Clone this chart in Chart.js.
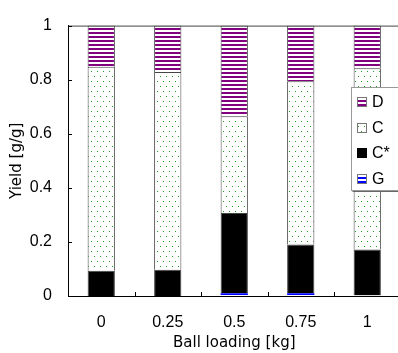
<!DOCTYPE html>
<html>
<head>
<meta charset="utf-8">
<script src="https://cdn.jsdelivr.net/npm/chart.js@4"></script>
<style>
  body { margin: 0; overflow: hidden; background: #fff; }
  #wrap { width: 404px; height: 353px; }
</style>
</head>
<body>
<div id="wrap"><canvas id="grafico"></canvas></div>
<script>
const categorias = ['0', '0.25', '0.5', '0.75', '1']
const valoresG = [0, 0, 0.01, 0.01, 0.002]
const valoresCstar = [0.093, 0.097, 0.297, 0.18, 0.17]
const valoresC = [0.755, 0.731, 0.358, 0.604, 0.67]
const valoresD = [0.152, 0.172, 0.335, 0.206, 0.158]
const fuente = "'Liberation Sans', Arial, sans-serif"
const fuenteTitulo = "'DejaVu Sans', sans-serif"

function rayas(color, filas) {
    const c = document.createElement('canvas')
    c.width = 4; c.height = 4
    const ctx = c.getContext('2d')
    ctx.fillStyle = '#fff'
    ctx.fillRect(0, 0, 4, 4)
    ctx.fillStyle = color
    filas.forEach(f => ctx.fillRect(0, f, 4, 1))
    return ctx.createPattern(c, 'repeat')
}

function puntos() {
    const c = document.createElement('canvas')
    c.width = 6; c.height = 10
    const ctx = c.getContext('2d')
    ctx.fillStyle = '#fff'
    ctx.fillRect(0, 0, 6, 10)
    ctx.fillStyle = '#1f9f1f'
    ctx.fillRect(1, 1, 1, 1)
    ctx.fillRect(4, 6, 1, 1)
    return ctx.createPattern(c, 'repeat')
}

const patronD = rayas('#800080', [0, 1])
const patronG = rayas('#0000ff', [1, 2])
const patronC = puntos()

// marco superior y marcas hacia dentro
const marco = {
    id: 'marco',
    afterDatasetsDraw(chart) {
        const { ctx, chartArea } = chart
        const x = chart.scales.x
        const y = chart.scales.y
        ctx.save()
        ctx.strokeStyle = '#444'
        ctx.lineWidth = 1
        ctx.beginPath()
        ctx.moveTo(chartArea.left, chartArea.top + 0.5)
        ctx.lineTo(chartArea.right, chartArea.top + 0.5)
        ctx.stroke()
        ctx.strokeStyle = '#000'
        ctx.beginPath()
        y.ticks.forEach(t => {
            const py = Math.round(y.getPixelForValue(t.value)) + 0.5
            ctx.moveTo(chartArea.left, py)
            ctx.lineTo(chartArea.left + 4, py)
        })
        const ancho = x.getPixelForTick(1) - x.getPixelForTick(0)
        for (let i = 0; i < categorias.length; i++) {
            const px = Math.round(x.getPixelForTick(i) + ancho / 2) + 0.5
            ctx.moveTo(px, chartArea.bottom)
            ctx.lineTo(px, chartArea.bottom - 4)
        }
        ctx.stroke()
        ctx.restore()
    }
}

// leyenda dentro del grafico
const leyenda = {
    id: 'leyenda',
    afterDraw(chart) {
        const ctx = chart.ctx
        const bx = 351, by = 87, bw = 60, bh = 103
        ctx.save()
        ctx.fillStyle = '#fff'
        ctx.fillRect(bx, by, bw, bh)
        ctx.strokeStyle = '#999'
        ctx.lineWidth = 1
        ctx.strokeRect(bx + 0.5, by + 0.5, bw, bh)
        ctx.strokeStyle = '#666'
        ctx.beginPath()
        ctx.moveTo(bx + 1.5, by + bh + 1.5)
        ctx.lineTo(bx + bw, by + bh + 1.5)
        ctx.stroke()
        ctx.font = '16px ' + fuente
        ctx.textBaseline = 'middle'
        const sets = chart.data.datasets.slice().reverse()
        sets.forEach((ds, i) => {
            const cy = Math.round(102 + i * 25.7)
            ctx.fillStyle = ds.backgroundColor
            ctx.fillRect(357, cy - 5, 9, 9)
            ctx.strokeStyle = ds.label === 'C*' ? '#000' : '#777'
            ctx.strokeRect(357.5, cy - 4.5, 9, 9)
            ctx.fillStyle = '#000'
            ctx.fillText(ds.label, 372, cy + 1)
        })
        ctx.restore()
    }
}

const datasets = [
    { label: 'G', data: valoresG, backgroundColor: patronG, borderWidth: 0 },
    { label: 'C*', data: valoresCstar, backgroundColor: '#000', borderWidth: 1 },
    { label: 'C', data: valoresC, backgroundColor: patronC, borderWidth: 1 },
    { label: 'D', data: valoresD, backgroundColor: patronD, borderWidth: 1 }
].map(d => Object.assign(d, {
    borderColor: '#444',
    borderSkipped: 'start',
    barPercentage: 0.41,
    categoryPercentage: 1
}))

const config = {
    type: 'bar',
    data: { labels: categorias, datasets },
    options: {
        responsive: true,
        maintainAspectRatio: false,
        animation: false,
        layout: { padding: { top: 18, right: 3.5, bottom: 0, left: 0 } },
        plugins: { legend: { display: false }, tooltip: { enabled: false } },
        scales: {
            x: {
                stacked: true,
                grid: { display: false, drawTicks: false },
                border: { display: true, color: '#000', width: 1 },
                ticks: { color: '#000', font: { family: fuente, size: 16 }, padding: 17, maxRotation: 0 },
                title: { display: true, text: 'Ball loading [kg]', color: '#000', font: { family: fuenteTitulo, size: 15 }, padding: { top: 0, bottom: 1 } },
                afterFit(s) { s.height = 57 }
            },
            y: {
                stacked: true,
                min: 0,
                max: 1,
                grid: { display: false, drawTicks: false },
                border: { display: true, color: '#000', width: 1 },
                ticks: {
                    stepSize: 0.2, color: '#000', font: { family: fuente, size: 16 }, padding: 16,
                    callback: v => String(+v.toFixed(1))
                },
                title: { display: true, text: 'Yield [g/g]', color: '#000', font: { family: fuenteTitulo, size: 15 }, padding: { top: 8, bottom: 0 } },
                afterFit(s) { s.width = 68 }
            }
        }
    },
    plugins: [marco, leyenda]
}

new Chart(document.getElementById('grafico'), config)
</script>
</body>
</html>
